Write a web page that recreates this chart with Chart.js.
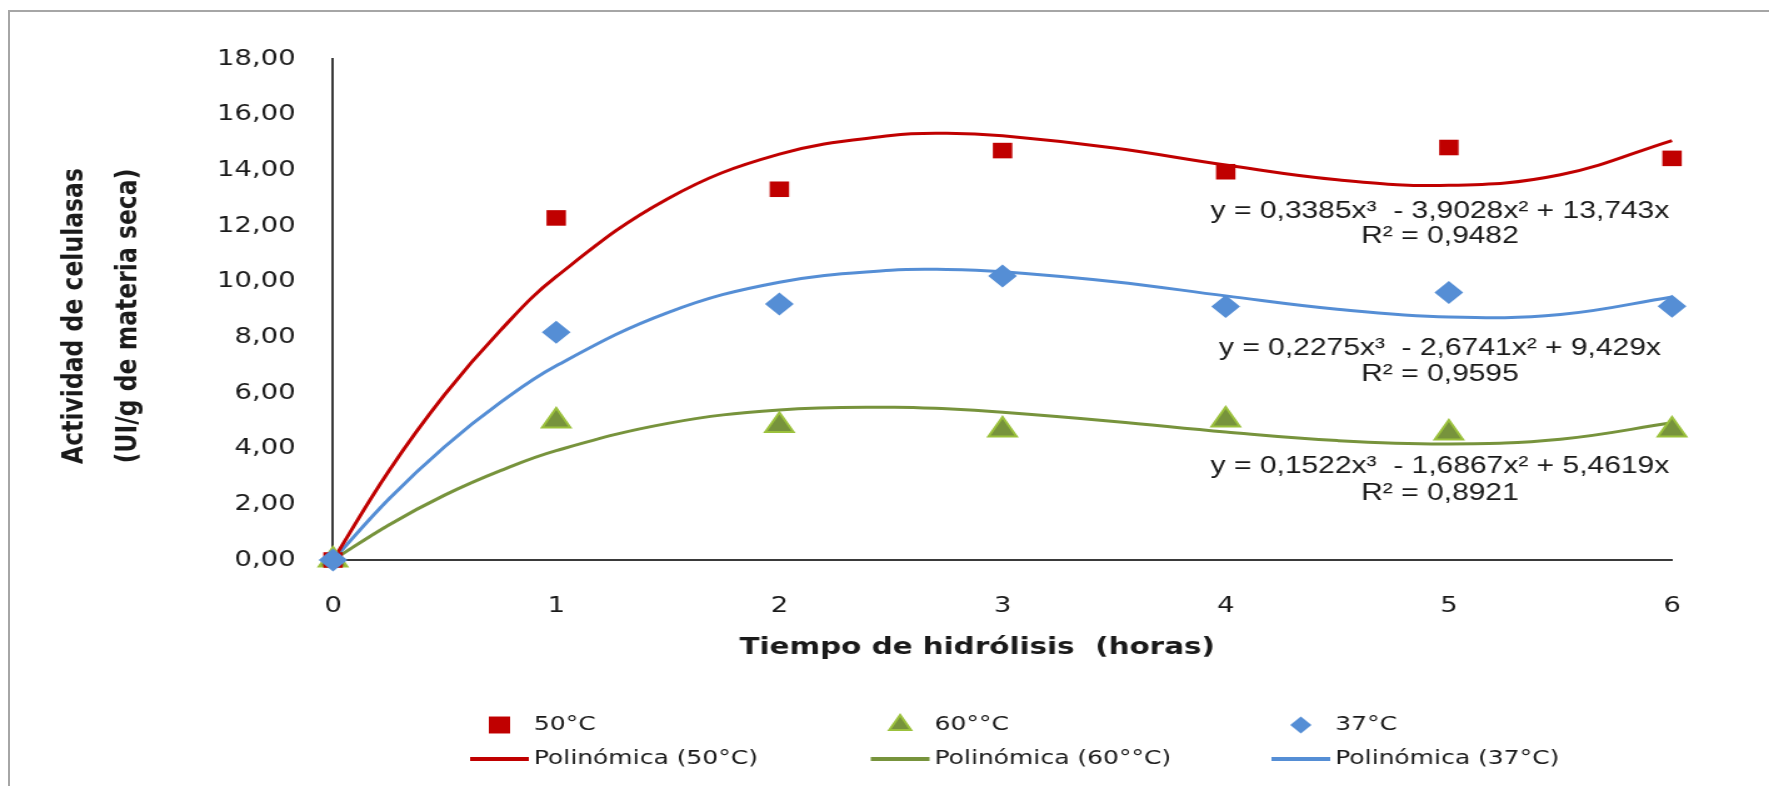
<!DOCTYPE html>
<html>
<head>
<meta charset="utf-8">
<title>Actividad de celulasas</title>
<script src="https://cdn.jsdelivr.net/npm/chart.js@4.4.1/dist/chart.umd.min.js"></script>
<style>
    html, body { margin: 0; padding: 0; background: #fff; overflow: hidden; }
    body { width: 1769px; height: 786px; position: relative; }
    #frame {
        position: absolute; left: 8px; top: 10px;
        width: 1800px; height: 800px;
        border: 2px solid #a6a6a6; box-sizing: border-box;
    }
    /* the original picture is stretched horizontally, so the chart is drawn narrower and scaled */
    #wrap {
        position: absolute; left: 0; top: 0;
        width: 1415px; height: 786px;
        transform: scaleX(1.2502); transform-origin: 0 0;
    }
</style>
</head>
<body>
<div id="frame"></div>
<div id="wrap"><canvas id="chart"></canvas></div>
<script>
// ===============================
// Datos
// ===============================
const HOURS = [0, 1, 2, 3, 4, 5, 6];
const ACT_50 = [0, 12.29, 13.32, 14.71, 13.95, 14.82, 14.43];
const ACT_60 = [0, 4.99, 4.83, 4.67, 5.03, 4.56, 4.67];
const ACT_37 = [0, 8.18, 9.20, 10.20, 9.11, 9.61, 9.12];

// líneas de tendencia
const FIT_HOURS = [0, 0.25, 0.5, 0.75, 1, 1.5, 2, 2.5, 2.75, 3, 3.5, 4, 4.5, 5, 5.5, 6];
const FIT_50 = [0, 3.20, 5.94, 8.25, 10.18, 12.98, 14.58, 15.25, 15.33, 15.24, 14.80, 14.19, 13.66, 13.46, 13.84, 15.07];
const FIT_60 = [0, 1.26, 2.33, 3.21, 3.93, 4.91, 5.39, 5.49, 5.43, 5.31, 4.98, 4.60, 4.29, 4.17, 4.34, 4.93];
const FIT_37 = [0, 2.19, 4.07, 5.66, 6.98, 8.89, 9.98, 10.41, 10.44, 10.36, 10.00, 9.49, 9.01, 8.73, 8.82, 9.45];

const X_TICKS = [0, 1, 2, 3, 4, 5, 6];
const Y_TICKS = [0, 2, 4, 6, 8, 10, 12, 14, 16, 18];

const SERIES_LABELS = ['50°C', '60°°C', '37°C'];
const FIT_LABELS = ['Polinómica (50°C)', 'Polinómica (60°°C)', 'Polinómica (37°C)'];
const EQUATIONS = [
    ['y = 0,3385x³  - 3,9028x² + 13,743x', 'R² = 0,9482'],
    ['y = 0,2275x³  - 2,6741x² + 9,429x', 'R² = 0,9595'],
    ['y = 0,1522x³  - 1,6867x² + 5,4619x', 'R² = 0,8921']
];
const X_TITLE = 'Tiempo de hidrólisis  (horas)';
const Y_TITLE = ['Actividad de celulasas', '(UI/g de materia seca)'];

const RED = '#C00000';
const GREEN = '#77933C';
const GREEN_EDGE = '#9BC13C';
const BLUE = '#558ED5';
const TEXT = '#1a1a1a';
const AXIS = '#3a3a3a';

const toPoints = (xs, ys) => xs.map((x, i) => ({ x: x, y: ys[i] }));
const tickFont = { family: '"DejaVu Sans", Verdana, sans-serif', size: 22 };

// ===============================
// Textos: títulos de ejes y ecuaciones
// ===============================
const overlayText = {
    id: 'overlayText',
    afterDraw(chart, args, opts) {
        const { ctx, scales: { x, y } } = chart;
        ctx.save();
        ctx.fillStyle = TEXT;
        ctx.textAlign = 'center';
        ctx.textBaseline = 'middle';

        ctx.font = '24px "Liberation Sans", Arial, sans-serif';
        EQUATIONS.forEach((lines, i) => {
            lines.forEach((t, j) => {
                ctx.fillText(t, x.getPixelForValue(opts.eqX), y.getPixelForValue(opts.eqY[i][j]));
            });
        });

        ctx.font = 'bold 23.5px "DejaVu Sans", sans-serif';
        ctx.fillText(X_TITLE, opts.xTitle.x, opts.xTitle.y);

        ctx.translate(opts.yTitle.x, opts.yTitle.y);
        ctx.rotate(-Math.PI / 2);
        Y_TITLE.forEach((t, j) => ctx.fillText(t, 0, j * opts.yTitle.gap));
        ctx.restore();
    }
};

// ===============================
// Leyenda en rejilla (3 columnas, 2 filas)
// ===============================
const gridLegend = {
    id: 'gridLegend',
    afterDraw(chart, args, opts) {
        const ctx = chart.ctx;
        const sets = chart.data.datasets;
        ctx.save();
        ctx.font = '20px "DejaVu Sans", Verdana, sans-serif';
        ctx.textAlign = 'left';
        ctx.textBaseline = 'middle';

        opts.columns.forEach((cx, i) => {
            const pts = sets[opts.pointSets[i]];
            const fit = sets[opts.fitSets[i]];

            ctx.fillStyle = pts.backgroundColor;
            ctx.strokeStyle = pts.borderColor;
            ctx.lineWidth = pts.borderWidth;
            Chart.helpers.drawPoint(ctx, {
                pointStyle: pts.pointStyle,
                radius: opts.markerRadius[i],
                borderWidth: pts.borderWidth,
                rotation: 0
            }, cx + opts.symbolWidth / 2, opts.rows[0]);
            ctx.fillStyle = TEXT;
            ctx.fillText(pts.label, cx + opts.textOffset, opts.rows[0]);

            ctx.strokeStyle = fit.borderColor;
            ctx.lineWidth = opts.lineWidth;
            ctx.beginPath();
            ctx.moveTo(cx, opts.rows[1]);
            ctx.lineTo(cx + opts.symbolWidth, opts.rows[1]);
            ctx.stroke();
            ctx.fillText(fit.label, cx + opts.textOffset, opts.rows[1]);
        });
        ctx.restore();
    }
};

// ===============================
// Gráfico
// ===============================
const markerSet = (label, data, style, radius, fill, edge, edgeWidth, order) => ({
    label: label,
    data: data,
    showLine: false,
    pointStyle: style,
    pointRadius: radius,
    backgroundColor: fill,
    borderColor: edge,
    borderWidth: edgeWidth,
    pointBorderWidth: edgeWidth,
    clip: false,
    order: order
});

const fitSet = (label, data, color) => ({
    label: label,
    data: data,
    showLine: true,
    borderColor: color,
    backgroundColor: color,
    borderWidth: 3,
    pointRadius: 0,
    fill: false,
    tension: 0.4,
    clip: false,
    order: 10
});

new Chart(document.getElementById('chart'), {
    type: 'scatter',
    data: {
        datasets: [
            markerSet(SERIES_LABELS[0], toPoints(HOURS, ACT_50), 'rect', 11, RED, RED, 0, 2),
            markerSet(SERIES_LABELS[1], toPoints(HOURS, ACT_60), 'triangle', 13, GREEN, GREEN_EDGE, 2, 3),
            markerSet(SERIES_LABELS[2], toPoints(HOURS, ACT_37), 'rectRot', 11.5, BLUE, BLUE, 0, 1),
            fitSet(FIT_LABELS[0], toPoints(FIT_HOURS, FIT_50), RED),
            fitSet(FIT_LABELS[1], toPoints(FIT_HOURS, FIT_60), GREEN),
            fitSet(FIT_LABELS[2], toPoints(FIT_HOURS, FIT_37), BLUE)
        ]
    },
    options: {
        responsive: true,
        maintainAspectRatio: false,
        animation: false,
        events: [],
        layout: {
            padding: { left: 0, right: 77.6, top: 59, bottom: 116 }
        },
        scales: {
            x: {
                type: 'linear',
                min: 0,
                max: 6,
                afterBuildTicks: (scale) => { scale.ticks = X_TICKS.map(v => ({ value: v })); },
                afterFit: (scale) => { scale.height = 110; },
                grid: { display: false, drawTicks: false },
                border: { display: true, color: AXIS, width: 2 },
                ticks: {
                    padding: 33,
                    color: TEXT,
                    font: tickFont,
                    callback: (v) => String(v)
                },
                title: { display: false }
            },
            y: {
                min: 0,
                max: 18,
                afterBuildTicks: (scale) => { scale.ticks = Y_TICKS.map(v => ({ value: v })); },
                afterFit: (scale) => { scale.width = 266.4; },
                grid: { display: false, drawTicks: false },
                border: { display: true, color: AXIS, width: 2 },
                ticks: {
                    padding: 30,
                    color: TEXT,
                    font: tickFont,
                    callback: (v) => v.toFixed(2).replace('.', ',')
                },
                title: { display: false }
            }
        },
        plugins: {
            legend: { display: false },
            tooltip: { enabled: false },
            overlayText: {
                eqX: 4.96,
                eqY: [[12.52, 11.62], [7.61, 6.68], [3.35, 2.40]],
                xTitle: { x: 781.6, y: 648 },
                yTitle: { x: 60, y: 316, gap: 42.5 }
            },
            gridLegend: {
                columns: [376, 696.5, 1017],
                rows: [725, 759],
                symbolWidth: 47,
                textOffset: 51,
                lineWidth: 4,
                markerRadius: [12, 10, 8.5],
                pointSets: [0, 1, 2],
                fitSets: [3, 4, 5]
            }
        }
    },
    plugins: [overlayText, gridLegend]
});
</script>
</body>
</html>
